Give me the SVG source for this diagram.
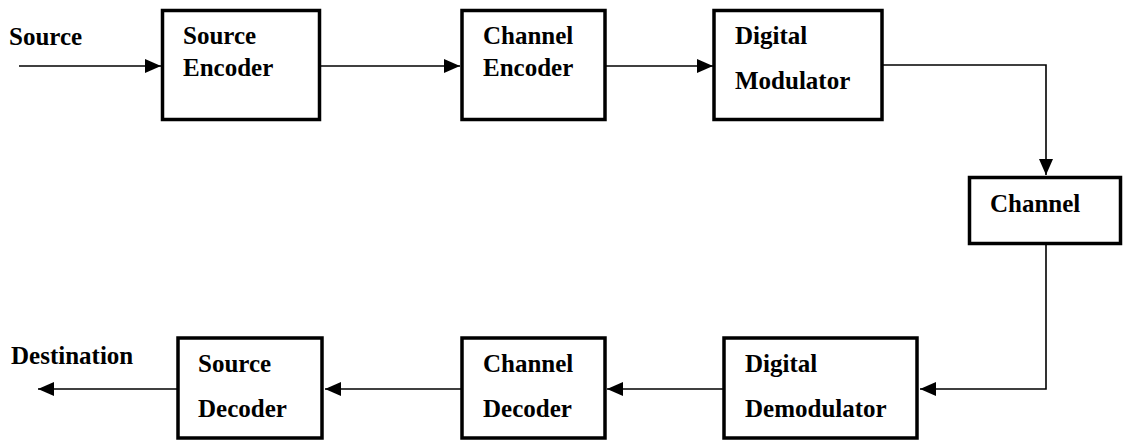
<svg xmlns="http://www.w3.org/2000/svg" width="1123" height="441" viewBox="0 0 1123 441" font-family="'Liberation Serif', 'Times New Roman', serif">
<defs>
<marker id="ah" markerWidth="16" markerHeight="14" refX="16" refY="7" orient="auto" markerUnits="userSpaceOnUse">
<path d="M0,0 L16,7 L0,14 Z" fill="#000"/>
</marker>
<style>
.box{fill:#fff;stroke:#000;stroke-width:3.5}
.t{font-family:'Liberation Serif','Times New Roman',serif;font-weight:700;font-size:25px;fill:#000}
.c{fill:none;stroke:#000;stroke-width:1.6}
</style>
</defs>
<rect width="1123" height="441" fill="#fff"/>
<g id="connectors">
<line class="c" x1="19" y1="66" x2="161" y2="66" marker-end="url(#ah)"/>
<line class="c" x1="320" y1="66" x2="460" y2="66" marker-end="url(#ah)"/>
<line class="c" x1="606" y1="66" x2="713" y2="66" marker-end="url(#ah)"/>
<polyline class="c" points="883,65 1046,65 1046,175" marker-end="url(#ah)"/>
<polyline class="c" points="1046,244 1046,389 920,389" marker-end="url(#ah)"/>
<line class="c" x1="723" y1="389" x2="607" y2="389" marker-end="url(#ah)"/>
<line class="c" x1="461" y1="389" x2="325" y2="389" marker-end="url(#ah)"/>
<line class="c" x1="177" y1="389" x2="38" y2="389" marker-end="url(#ah)"/>
</g>
<text class="t" x="9" y="45">Source</text>
<text class="t" x="11" y="364">Destination</text>
<g id="source-encoder">
<rect class="box" x="162.5" y="10.5" width="157" height="109"/>
<text class="t" x="183" y="44">Source</text>
<text class="t" x="183" y="76">Encoder</text>
</g>
<g id="channel-encoder">
<rect class="box" x="462" y="10.5" width="143" height="109"/>
<text class="t" x="483" y="44">Channel</text>
<text class="t" x="483" y="76">Encoder</text>
</g>
<g id="digital-modulator">
<rect class="box" x="714" y="10.5" width="168" height="109"/>
<text class="t" x="735" y="44">Digital</text>
<text class="t" x="735" y="89">Modulator</text>
</g>
<g id="channel">
<rect class="box" x="969.5" y="177.5" width="151" height="66"/>
<text class="t" x="990" y="212">Channel</text>
</g>
<g id="digital-demodulator">
<rect class="box" x="724" y="338" width="193" height="100"/>
<text class="t" x="745" y="372">Digital</text>
<text class="t" x="745" y="417">Demodulator</text>
</g>
<g id="channel-decoder">
<rect class="box" x="462" y="338" width="143" height="100"/>
<text class="t" x="483" y="372">Channel</text>
<text class="t" x="483" y="417">Decoder</text>
</g>
<g id="source-decoder">
<rect class="box" x="178" y="338" width="144" height="100"/>
<text class="t" x="198" y="372">Source</text>
<text class="t" x="198" y="417">Decoder</text>
</g>
</svg>
